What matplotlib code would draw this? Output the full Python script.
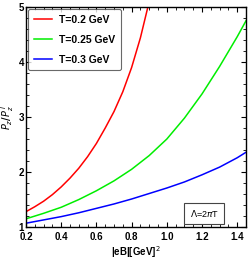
import matplotlib
matplotlib.use("Agg")
import matplotlib.pyplot as plt
from matplotlib.ticker import MultipleLocator

plt.rcParams['font.family'] = ['Liberation Sans', 'DejaVu Sans']

eb_red = [0.2, 0.25, 0.3, 0.35, 0.4, 0.45, 0.5, 0.55, 0.6, 0.65, 0.7, 0.75, 0.8, 0.85, 0.9]
ratio_red = [1.28, 1.37, 1.47, 1.59, 1.73, 1.89, 2.07, 2.28, 2.52, 2.80, 3.10, 3.46, 3.90, 4.44, 5.10]

eb = [0.2, 0.3, 0.4, 0.5, 0.6, 0.7, 0.8, 0.9, 1.0, 1.1, 1.2, 1.3, 1.4, 1.45]
ratio_green = [1.15, 1.25, 1.36, 1.50, 1.66, 1.84, 2.05, 2.30, 2.60, 2.98, 3.42, 3.92, 4.46, 4.75]
ratio_blue = [1.07, 1.13, 1.19, 1.26, 1.34, 1.42, 1.51, 1.61, 1.71, 1.82, 1.95, 2.09, 2.26, 2.36]

labels = ['T=0.2 GeV', 'T=0.25 GeV', 'T=0.3 GeV']
yticks = [1, 2, 3, 4, 5]

fig = plt.figure(figsize=(2.5, 2.61), dpi=100)
ax = fig.add_axes([0.104, 0.13, 0.88, 0.843])

ax.plot(eb_red, ratio_red, color='#ff0000', lw=1.1, label=labels[0])
ax.plot(eb, ratio_green, color='#00ee00', lw=1.1, label=labels[1])
ax.plot(eb, ratio_blue, color='#0000ff', lw=1.1, label=labels[2])

ax.set_xlim(0.2, 1.45)
ax.set_ylim(1, 5)
ax.xaxis.set_major_locator(MultipleLocator(0.2))
ax.xaxis.set_minor_locator(MultipleLocator(0.05))
ax.set_yticks(yticks)
ax.set_yticklabels([str(v) for v in yticks])
ax.yaxis.set_minor_locator(MultipleLocator(0.2))
ax.tick_params(which='both', direction='in', top=True, right=True, labelsize=7)
ax.tick_params(axis='x', pad=3.5)
ax.tick_params(axis='y', pad=1.5)
ax.tick_params(which='major', length=3.5, width=0.8)
ax.tick_params(which='minor', length=2, width=0.6)
for s in ax.spines.values():
    s.set_linewidth(1.0)

for lab in ax.get_xticklabels() + ax.get_yticklabels():
    lab.set_fontweight('bold')
# lift the "1" a touch so it clears "0.2"
ax.get_yticklabels()[0].set_verticalalignment('center_baseline')

ax.set_xlabel(r'|eB|[GeV]$^2$', fontsize=7, fontweight='bold', labelpad=1.5)
ax.set_ylabel(r'$\boldsymbol{P_z/P_z^{\,I}}$', fontsize=7, labelpad=2)

leg = ax.legend(loc='upper left', fontsize=7.5, frameon=True, fancybox=True,
                handlelength=1.7, borderaxespad=0.2, labelspacing=0.95,
                handletextpad=0.7, borderpad=0.55)
leg.get_frame().set_edgecolor('#444444')
leg.get_frame().set_linewidth(0.8)
for t in leg.get_texts():
    t.set_fontweight('bold')

ax.text(0.81, 0.062, r'$\Lambda$=2$\pi$T', transform=ax.transAxes, fontsize=6.5,
        ha='center', va='center',
        bbox=dict(boxstyle='square,pad=0.6', fc='white', ec='#444444', lw=0.8))

fig.savefig('out.png', dpi=100)
